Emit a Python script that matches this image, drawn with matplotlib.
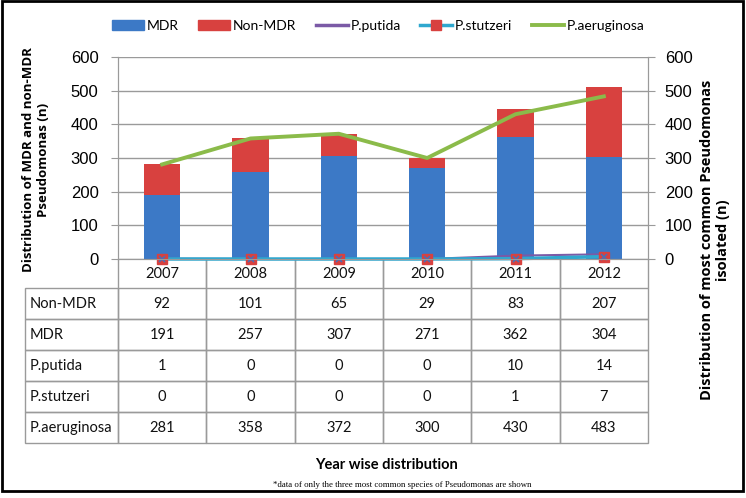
import numpy as np
import matplotlib
matplotlib.use('Agg')
import matplotlib.pyplot as plt
from matplotlib.table import Table
from matplotlib.patches import Rectangle, Patch
from matplotlib.lines import Line2D

years = ['2007', '2008', '2009', '2010', '2011', '2012']
mdr = [191, 257, 307, 271, 362, 304]
non_mdr = [92, 101, 65, 29, 83, 207]
putida = [1, 0, 0, 0, 10, 14]
stutzeri = [0, 0, 0, 0, 1, 7]
aeruginosa = [281, 358, 372, 300, 430, 483]
row_names = ['Non-MDR', 'MDR', 'P.putida', 'P.stutzeri', 'P.aeruginosa']

c_mdr = '#3C79C6'
c_non = '#D8413F'
c_put = '#7B5AA6'
c_stu = '#2FA8CF'
c_aer = '#8BBB4A'
grid_c = '#9A9A9A'

plt.rcParams['font.family'] = ['Lato', 'DejaVu Sans']

fig = plt.figure(figsize=(7.46, 4.98), dpi=100)
ax = fig.add_axes([118 / 746, 239 / 498, 530 / 746, 202 / 498])
x = np.arange(len(years))

ax.bar(x, mdr, width=0.41, color=c_mdr, label='MDR', zorder=2)
ax.bar(x, non_mdr, width=0.41, bottom=mdr, color=c_non, label='Non-MDR', zorder=2)
ax.set_xlim(-0.5, len(years) - 0.5)
ax.set_ylim(0, 600)
ax.set_yticks(range(0, 601, 100))
ax.set_xticks([])
ax.yaxis.grid(True, color=grid_c, lw=1)
ax.set_axisbelow(True)
for s in ['left', 'right', 'bottom']:
    ax.spines[s].set_color(grid_c)
ax.spines['top'].set_visible(False)
ax.tick_params(axis='y', length=5, color=grid_c, pad=9, labelsize=12)
for t in ax.get_yticklabels():
    t.set_fontfamily('Liberation Sans')

ax2 = ax.twinx()
ax2.set_ylim(0, 600)
ax2.set_yticks(range(0, 601, 100))
ax2.plot(x, putida, color=c_put, lw=1.5, clip_on=False)
ax2.plot(x, stutzeri, color=c_stu, lw=2.5, marker='s', markersize=7.5,
         markerfacecolor=c_non, markeredgecolor=c_non, clip_on=False)
ax2.plot(x, stutzeri, ls='none', marker='x', markersize=4.5, markeredgewidth=1.2,
         color='#4A6FB5', clip_on=False)
ax2.plot(x, aeruginosa, color=c_aer, lw=2.8)
for s in ['left', 'right', 'bottom']:
    ax2.spines[s].set_color(grid_c)
ax2.spines['top'].set_visible(False)
ax2.tick_params(axis='y', length=5, color=grid_c, pad=7, labelsize=12)
for t in ax2.get_yticklabels():
    t.set_fontfamily('Liberation Sans')

# table under the plot
tbl = Table(ax, bbox=[-93 / 530, -184 / 202, 623 / 530, 184 / 202])
rows = [[''] + years]
for name, vals in zip(row_names, [non_mdr, mdr, putida, stutzeri, aeruginosa]):
    rows.append([name] + [str(v) for v in vals])
col_w = [93] + [530 / 6] * 6
for i, row in enumerate(rows):
    h = 29 if i == 0 else 31
    for j, txt in enumerate(row):
        cell = tbl.add_cell(i, j, width=col_w[j], height=h, text=txt,
                            loc='left' if j == 0 else 'center',
                            edgecolor=grid_c, facecolor='none')
        cell.set_linewidth(1)
        cell.get_text().set_fontsize(10.5)
        cell.get_text().set_color('#111111')
        if j == 0:
            cell.PAD = 0.05
        if i == 0:
            cell.visible_edges = '' if j == 0 else 'LR'
tbl.auto_set_font_size(False)
ax.add_table(tbl)

fig.text(36 / 746, 1 - 160 / 498, 'Distribution of MDR and non-MDR\nPseudomonas (n)',
         rotation=90, ha='center', va='center', fontsize=9.5, fontweight='bold',
         family='Open Sans', linespacing=1.2)
fig.text(715 / 746, 1 - 240 / 498, 'Distribution of most common Pseudomonas\nisolated (n)',
         rotation=90, ha='center', va='center', fontsize=10.5, fontweight='bold',
         family='Open Sans', linespacing=1.15)
fig.text(386 / 746, 1 - 465 / 498, 'Year wise distribution', ha='center', va='center',
         fontsize=10.5, fontweight='bold')
fig.text(402 / 746, 1 - 485 / 498,
         '*data of only the three most common species of Pseudomonas are shown',
         ha='center', va='center', fontsize=6.3, family='Liberation Serif')

handles = [Patch(color=c_mdr), Patch(color=c_non),
           Line2D([], [], color=c_put, lw=2.5),
           Line2D([], [], color=c_stu, lw=2.5, marker='s', markersize=7,
                  markerfacecolor=c_non, markeredgecolor=c_non),
           Line2D([], [], color=c_aer, lw=2.8)]
labels = ['MDR', 'Non-MDR', 'P.putida', 'P.stutzeri', 'P.aeruginosa']
fig.legend(handles, labels, loc='center', bbox_to_anchor=(378 / 746, 1 - 26 / 498),
           ncol=5, frameon=False, fontsize=10, handlelength=2.3, handletextpad=0.2,
           columnspacing=1.4)

fig.patches.append(Rectangle((0.003, 0.014), 0.993, 0.983, transform=fig.transFigure,
                             fill=False, lw=2, ec='black'))

fig.savefig('out.png', dpi=100)
